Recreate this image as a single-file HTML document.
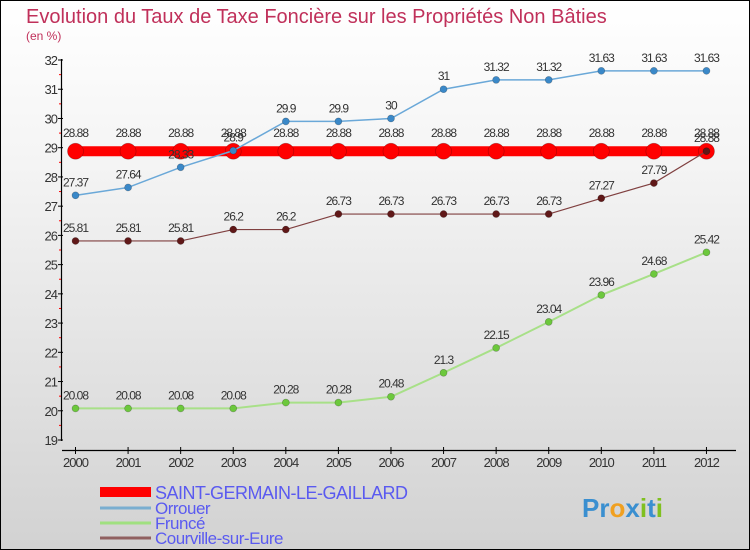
<!DOCTYPE html>
<html><head><meta charset="utf-8"><style>
body{margin:0}
#c{width:750px;height:550px;position:relative;box-sizing:border-box;border:1px solid #000;background:linear-gradient(#fff 0%,#f4f4f4 30%,#d2d2d2 100%);font-family:"Liberation Sans",sans-serif;overflow:hidden}
</style></head><body>
<div id="c">
<svg id="s" width="750" height="550" style="position:absolute;left:-1px;top:-1px"></svg>
</div>
<script>
const years=[2000,2001,2002,2003,2004,2005,2006,2007,2008,2009,2010,2011,2012];
const yTicks=[19,20,21,22,23,24,25,26,27,28,29,30,31,32];
const saint=[28.88,28.88,28.88,28.88,28.88,28.88,28.88,28.88,28.88,28.88,28.88,28.88,28.88];
const orrouer=[27.37,27.64,28.33,28.9,29.9,29.9,30,31,31.32,31.32,31.63,31.63,31.63];
const frunce=[20.08,20.08,20.08,20.08,20.28,20.28,20.48,21.3,22.15,23.04,23.96,24.68,25.42];
const courville=[25.81,25.81,25.81,26.2,26.2,26.73,26.73,26.73,26.73,26.73,27.27,27.79,28.88];
const NS="http://www.w3.org/2000/svg",s=document.getElementById('s');
const x=i=>75.5+i*52.58, y=v=>440-(v-19)*29.23;
function el(t,a,p){const e=document.createElementNS(NS,t);for(const k in a)e.setAttribute(k,a[k]);(p||s).appendChild(e);return e;}
function txt(t,a){const e=el('text',a);e.textContent=t;return e;}
let e;
e=txt('Evolution du Taux de Taxe Foncière sur les Propriétés Non Bâties',{x:26,y:23,'font-size':20,fill:'#c0305a'});

e=txt('(en %)',{x:26,y:40,'font-size':12,fill:'#c0305a'});

e=el('line',{x1:61.5,y1:59,x2:61.5,y2:441,stroke:'#000','stroke-width':1.2});

e=el('line',{x1:62,y1:450.5,x2:736,y2:450.5,stroke:'#000','stroke-width':1.2});

yTicks.forEach((v,i)=>{
 el('line',{x1:58,x2:63,y1:y(v),y2:y(v),stroke:'#000'});
 if(i<yTicks.length-1) el('line',{x1:59,x2:61,y1:y(v+0.5),y2:y(v+0.5),stroke:'#f00'});
 e=txt(v,{x:57,y:y(v)+5,'font-size':13,'text-anchor':'end',fill:'#333','letter-spacing':'-1'});
 
});
years.forEach((yr,i)=>{
 el('line',{x1:x(i),x2:x(i),y1:447,y2:454,stroke:'#000'});
 e=txt(yr,{x:x(i),y:467,'font-size':13,'text-anchor':'middle',fill:'#333','letter-spacing':'-1'});
 
});
function series(name,vals,col,w,r,mfill,labOff){
 const g=el('g',{});
 
 el('polyline',{points:vals.map((v,i)=>x(i)+','+y(v)).join(' '),fill:'none',stroke:col,'stroke-width':w},g);
 vals.forEach((v,i)=>{
  const c=el('circle',{cx:x(i),cy:y(v),r:r,fill:mfill,stroke:'rgba(0,0,0,0.3)','stroke-width':0.6},g);
  
  const t=el('text',{x:x(i),y:y(v)-labOff,'font-size':12,'text-anchor':'middle',fill:'#333','letter-spacing':'-1'},g);
  t.textContent=v;
 });
}
series('saint-germain',saint,'#f00',10,8,'#f00',14);
series('orrouer',orrouer,'#6aa8d8',1.5,3.5,'#3a88c8',9);
series('frunce',frunce,'#a8e088',2,3.5,'#6cc83c',9);
series('courville',courville,'#804040',1.2,3.5,'#601818',9);
const leg=[['SAINT-GERMAIN-LE-GAILLARD','#f00',10,492],['Orrouer','#7aaed0',3,508],['Fruncé','#a0e080',3,523],['Courville-sur-Eure','#906060',3,538]];
leg.forEach(l=>{
 const g=el('g',{});
 
 el('line',{x1:100,x2:151,y1:l[3],y2:l[3],stroke:l[1],'stroke-width':l[2]},g);
 const t=el('text',{x:155,y:l[3]+(l[2]>5?7:6),'font-size':l[2]>5?18:17,fill:'#5a5af0','letter-spacing':'-0.5'},g);
 t.textContent=l[0];
});
const lg=el('g',{});

const lt=el('text',{x:582,y:517,'font-size':26,'font-weight':'bold',fill:'#3a90d0'},lg);
lt.innerHTML='<tspan fill="#3a8fd0">Pr</tspan><tspan fill="#f0a020">o</tspan><tspan fill="#3a8fd0">x</tspan><tspan fill="#80c020">i</tspan><tspan fill="#3a8fd0">t</tspan><tspan fill="#80c020">i</tspan>';
</script>
</body></html>
